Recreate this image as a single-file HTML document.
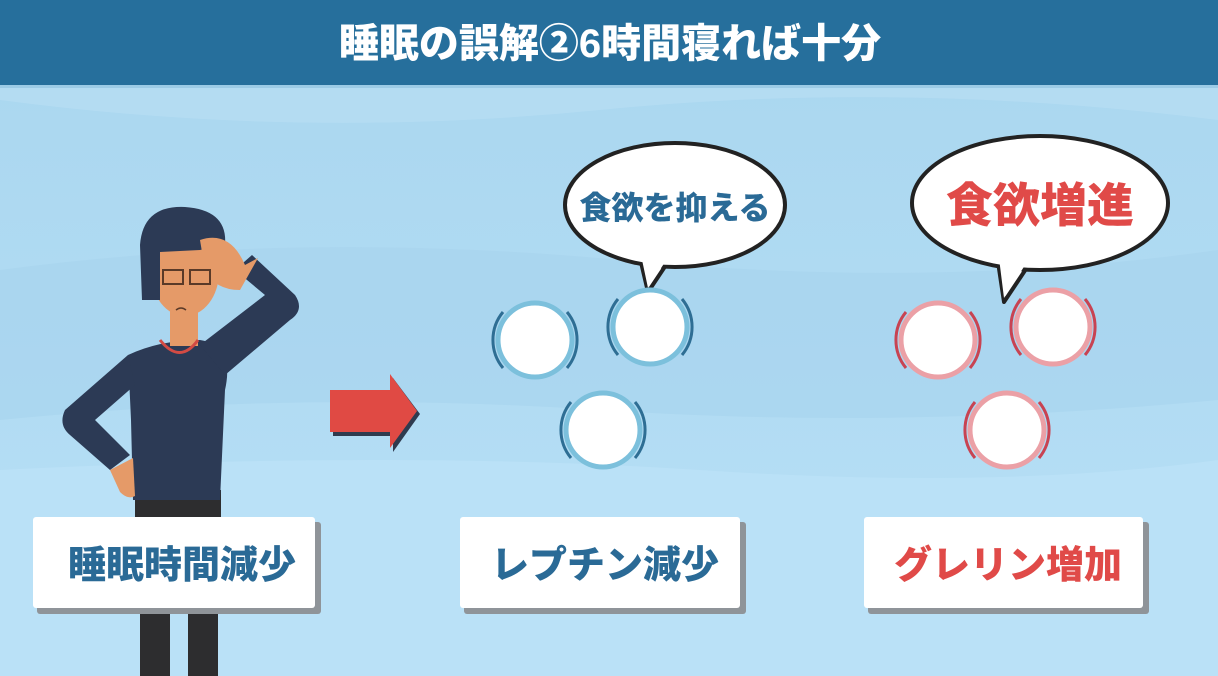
<!DOCTYPE html>
<html><head><meta charset="utf-8"><style>
body{margin:0;width:1218px;height:676px;overflow:hidden;font-family:"Liberation Sans","Noto Sans CJK JP",sans-serif;}
svg{display:block}
text{font-family:"Liberation Sans","Noto Sans CJK JP",sans-serif;font-weight:900}
</style></head><body>
<svg width="1218" height="676" viewBox="0 0 1218 676" xmlns="http://www.w3.org/2000/svg">
<defs>
<linearGradient id="bg" x1="0" y1="0" x2="0" y2="1">
<stop offset="0" stop-color="#a9d6ef"/><stop offset="1" stop-color="#b8e0f6"/>
</linearGradient>
</defs>
<rect width="1218" height="676" fill="url(#bg)"/>
<path d="M0 100 Q300 140 600 110 T1218 120 L1218 85 L0 85Z" fill="#b4dcf2"/>
<path d="M0 270 Q300 230 620 260 T1218 250 L1218 400 Q900 430 600 410 T0 420Z" fill="#a8d4ee" opacity="0.7"/>
<path d="M0 470 Q400 450 700 470 T1218 460 L1218 676 L0 676Z" fill="#bae1f7"/>
<rect width="1218" height="85" fill="#266f9c"/>
<rect y="85" width="1218" height="3" fill="#9ccbe6"/>
<text x="610" y="57" text-anchor="middle" font-size="40" fill="#fff">睡眠の誤解②6時間寝れば十分</text>

<!-- person -->
<g>
<rect x="140" y="600" width="30" height="76" fill="#2d2d2f"/>
<rect x="188" y="600" width="30" height="76" fill="#2d2d2f"/>
<rect x="135" y="490" width="86" height="30" fill="#2d2d2f"/>
<path d="M128 355 Q160 340 200 340 Q235 345 225 390 L220 500 L133 500 L131 420Z" fill="#2c3a55"/>
<path d="M128 355 L65 410 Q58 425 70 435 L110 470 L130 455 L95 420 L135 385Z" fill="#2c3a55"/>
<path d="M110 470 L120 492 Q128 500 135 496 L133 458Z" fill="#e59a68"/>
<path d="M200 345 L265 295 L235 270 L252 255 L295 295 Q305 310 290 320 L225 375Z" fill="#2c3a55"/>
<rect x="170" y="310" width="28" height="36" fill="#e59a68"/>
<path d="M160 340 Q180 365 198 340" stroke="#d34b44" stroke-width="3" fill="none"/>
<ellipse cx="185" cy="272" rx="34" ry="44" fill="#e59a68"/>
<path d="M142 300 L140 245 Q143 205 185 207 Q228 210 225 245 L200 250 L160 252 L160 300Z" fill="#2c3a55"/>
<path d="M200 240 Q230 230 245 265 L258 258 L240 290 Q215 290 205 270Z" fill="#e59a68"/>
<rect x="163" y="270" width="20" height="14" fill="none" stroke="#5a3a28" stroke-width="2"/>
<rect x="190" y="270" width="20" height="14" fill="none" stroke="#5a3a28" stroke-width="2"/>
<path d="M176 310 Q181 306 186 310" stroke="#5a3a28" stroke-width="1.5" fill="none"/>
</g>

<!-- arrow -->
<path d="M333 394 L393 394 L393 378 L420 414 L393 452 L393 436 L333 436Z" fill="#2f3b4f"/>
<path d="M330 390 L390 390 L390 374 L417 411 L390 448 L390 432 L330 432Z" fill="#e04a44"/>

<!-- bubbles -->
<path d="M640 258 L648 292 L668 262" fill="#fff" stroke="#222" stroke-width="4" stroke-linejoin="round"/>
<ellipse cx="675" cy="205" rx="110" ry="62" fill="#fff" stroke="#222" stroke-width="4"/>
<path d="M641 255 L648 288 L667 259Z" fill="#fff"/>
<text x="675" y="219" text-anchor="middle" font-size="32" fill="#2a6a96">食欲を抑える</text>
<path d="M998 262 L1004 302 L1028 266" fill="#fff" stroke="#222" stroke-width="4" stroke-linejoin="round"/>
<ellipse cx="1040" cy="203" rx="128" ry="67" fill="#fff" stroke="#222" stroke-width="4"/>
<path d="M999 258 L1004 298 L1027 262Z" fill="#fff"/>
<text x="1040" y="222" text-anchor="middle" font-size="47" fill="#e04a48">食欲増進</text>

<!-- blue circles -->
<g fill="#fff" stroke="#7cc0dc" stroke-width="5">
<circle cx="535" cy="340" r="37"/><circle cx="650" cy="327" r="37"/><circle cx="603" cy="430" r="37"/>
</g>
<g fill="none" stroke="#2e6e94" stroke-width="3">
<path d="M503 312 A44 44 0 0 0 503 368"/><path d="M567 312 A44 44 0 0 1 567 368"/>
<path d="M618 299 A44 44 0 0 0 618 355"/><path d="M682 299 A44 44 0 0 1 682 355"/>
<path d="M571 402 A44 44 0 0 0 571 458"/><path d="M635 402 A44 44 0 0 1 635 458"/>
</g>
<!-- pink circles -->
<g fill="#fff" stroke="#eba0a6" stroke-width="5">
<circle cx="938" cy="340" r="37"/><circle cx="1053" cy="327" r="37"/><circle cx="1007" cy="430" r="37"/>
</g>
<g fill="none" stroke="#c84352" stroke-width="3">
<path d="M906 312 A44 44 0 0 0 906 368"/><path d="M970 312 A44 44 0 0 1 970 368"/>
<path d="M1021 299 A44 44 0 0 0 1021 355"/><path d="M1085 299 A44 44 0 0 1 1085 355"/>
<path d="M975 402 A44 44 0 0 0 975 458"/><path d="M1039 402 A44 44 0 0 1 1039 458"/>
</g>

<!-- label boxes -->
<rect x="37" y="522" width="284" height="92" rx="3" fill="#8f9499"/>
<rect x="33" y="517" width="282" height="91" rx="3" fill="#fff"/>
<text x="182" y="578" text-anchor="middle" font-size="38" fill="#2a6a96">睡眠時間減少</text>
<rect x="464" y="522" width="282" height="92" rx="3" fill="#8f9499"/>
<rect x="460" y="517" width="280" height="91" rx="3" fill="#fff"/>
<text x="605" y="578" text-anchor="middle" font-size="38" fill="#2a6a96">レプチン減少</text>
<rect x="868" y="522" width="281" height="92" rx="3" fill="#8f9499"/>
<rect x="864" y="517" width="279" height="91" rx="3" fill="#fff"/>
<text x="1008" y="578" text-anchor="middle" font-size="38" fill="#e04a48">グレリン増加</text>
</svg>
</body></html>
